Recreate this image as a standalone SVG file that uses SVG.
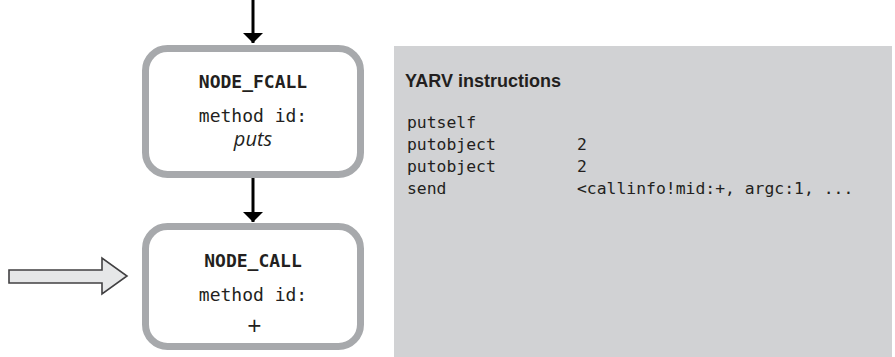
<svg xmlns="http://www.w3.org/2000/svg" width="895" height="357" viewBox="0 0 895 357">
<style>
.box{fill:#ffffff;stroke:#a7a9ac;stroke-width:7}
.mono{font-family:"DejaVu Sans Mono","Liberation Mono",monospace;font-size:16.4px;fill:#231f20}
.title{font-family:"DejaVu Sans Mono","Liberation Mono",monospace;font-size:18px;font-weight:bold;fill:#231f20;text-anchor:middle}
.lbl{font-family:"DejaVu Sans Mono","Liberation Mono",monospace;font-size:18px;fill:#231f20;text-anchor:middle}
.ital{font-family:"Open Sans","Liberation Sans",sans-serif;font-size:20px;font-style:italic;fill:#231f20;text-anchor:middle}
.head{font-family:"Liberation Sans",Arial,sans-serif;font-size:18px;font-weight:bold;fill:#231f20}
.conn{stroke:#000000;stroke-width:3;fill:none}
</style>
<defs>
<marker id="ah" viewBox="0 0 10 20" refX="10" refY="10" markerWidth="10" markerHeight="20" markerUnits="userSpaceOnUse" orient="auto">
<path d="M0,0 L10,10 L0,20 Z" fill="#000000"/>
</marker>
</defs>
<rect id="panel" x="394" y="46" width="498" height="311" fill="#d1d2d4"/>
<g id="yarv-text">
<text class="head" x="405" y="87">YARV instructions</text>
<text class="mono" x="407" y="128">putself</text>
<text class="mono" x="407" y="150">putobject</text>
<text class="mono" x="577" y="150">2</text>
<text class="mono" x="407" y="172">putobject</text>
<text class="mono" x="577" y="172">2</text>
<text class="mono" x="407" y="194">send</text>
<text class="mono" x="577" y="194">&lt;callinfo!mid:+, argc:1, ...</text>
</g>
<g id="connectors">
<line class="conn" x1="253" y1="0" x2="253" y2="43" marker-end="url(#ah)"/>
<line class="conn" x1="253" y1="178" x2="253" y2="222" marker-end="url(#ah)"/>
<path id="pointer" d="M9,270 L102,270 L102,258 L127,276 L102,294 L102,283 L9,283 Z" fill="#e6e7e8" stroke="#414042" stroke-width="1.6" stroke-linejoin="miter"/>
</g>
<g id="node-fcall">
<rect class="box" x="145.5" y="48.5" width="215" height="126" rx="22"/>
<text class="title" x="253" y="88">NODE_FCALL</text>
<text class="lbl" x="253" y="122">method id:</text>
<text class="ital" x="253" y="146">puts</text>
</g>
<g id="node-call">
<rect class="box" x="145.5" y="226.5" width="215" height="120" rx="22"/>
<text class="title" x="253" y="267">NODE_CALL</text>
<text class="lbl" x="253" y="301">method id:</text>
<text class="ital" x="254" y="335" style="font-size:25px">+</text>
</g>
</svg>
